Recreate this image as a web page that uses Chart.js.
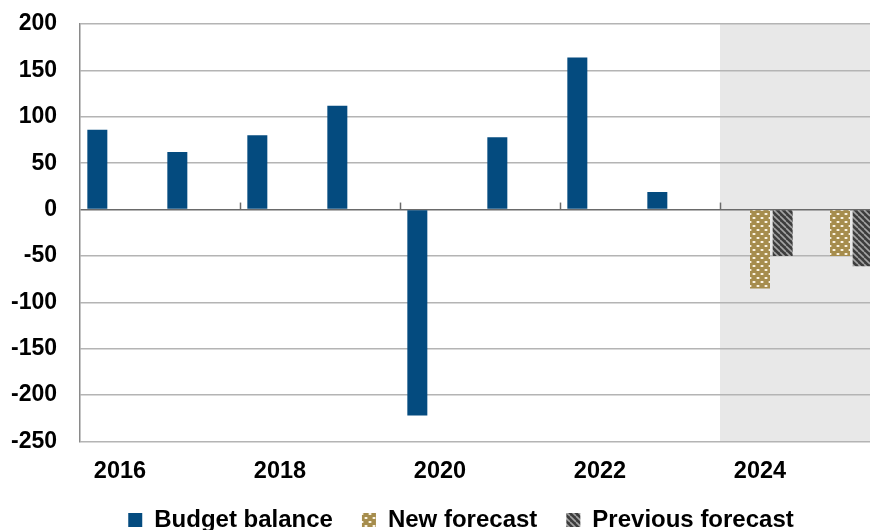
<!DOCTYPE html>
<html>
<head>
<meta charset="utf-8">
<script src="https://cdn.jsdelivr.net/npm/chart.js@4.4.1/dist/chart.umd.min.js"></script>
<style>
  html, body { margin: 0; padding: 0; overflow: hidden; background: #ffffff; }
  #wrap { width: 922px; height: 542px; }
</style>
</head>
<body>
<div id="wrap"><canvas id="c" width="922" height="542"></canvas></div>
<script>
// Budget balance by year, with the two forecast vintages for 2024-2025
const years = ['2016', '2017', '2018', '2019', '2020', '2021', '2022', '2023', '2024', '2025'];
const budgetBalance = [86, 62, 80, 112, -222, 78, 164, 19, null, null];
const newForecast = [null, null, null, null, null, null, null, null, -85, -50];
const previousForecast = [null, null, null, null, null, null, null, null, -50, -61];
const forecastFrom = '2024';
const zeroTickYears = ['2018', '2020', '2022', '2024'];
const yMin = -250, yMax = 200, yStep = 50;

const FONT = '"Liberation Sans", Arial, sans-serif';

// Dotted fill for the new forecast
function dotPattern() {
  const t = document.createElement('canvas');
  t.width = 8; t.height = 8;
  const g = t.getContext('2d');
  g.fillStyle = '#a68d4d';
  g.fillRect(0, 0, 8, 8);
  g.fillStyle = 'rgba(255,250,235,0.95)';
  g.fillRect(1, 1, 2, 2);
  g.fillRect(5, 5, 2, 2);
  g.fillStyle = 'rgba(255,250,235,0.35)';
  g.fillRect(0, 1, 1, 2); g.fillRect(3, 1, 1, 2);
  g.fillRect(4, 5, 1, 2); g.fillRect(7, 5, 1, 2);
  return g.createPattern(t, 'repeat');
}

// Diagonal hatching for the previous forecast
function stripePattern() {
  const s = 6;
  const t = document.createElement('canvas');
  t.width = s; t.height = s;
  const g = t.getContext('2d');
  g.fillStyle = '#3d3d3d';
  g.fillRect(0, 0, s, s);
  g.strokeStyle = '#a4a4a4';
  g.lineWidth = 1.6;
  for (const o of [-s, 0, s]) {
    g.beginPath();
    g.moveTo(o, 0);
    g.lineTo(o + s, s);
    g.stroke();
  }
  return g.createPattern(t, 'repeat');
}

// Grey band behind the forecast years
const forecastBand = {
  id: 'forecastBand',
  beforeDraw(chart) {
    const { ctx, chartArea: a, scales: { x } } = chart;
    const i = years.indexOf(forecastFrom);
    const half = (x.getPixelForValue(1) - x.getPixelForValue(0)) / 2;
    const left = x.getPixelForValue(i) - half;
    ctx.save();
    ctx.fillStyle = '#e8e8e8';
    ctx.fillRect(left, a.top, a.right - left, a.bottom - a.top);
    ctx.restore();
  }
};

// Small upward ticks on the zero line between two-year groups
const zeroTicks = {
  id: 'zeroTicks',
  afterDatasetsDraw(chart) {
    const { ctx, scales: { x, y } } = chart;
    const y0 = y.getPixelForValue(0);
    const half = (x.getPixelForValue(1) - x.getPixelForValue(0)) / 2;
    ctx.save();
    ctx.strokeStyle = '#6a6a6a';
    ctx.lineWidth = 1.5;
    zeroTickYears.forEach(yr => {
      const px = Math.round(x.getPixelForValue(years.indexOf(yr)) - half) + 0.5;
      ctx.beginPath();
      ctx.moveTo(px, y0);
      ctx.lineTo(px, y0 - 7);
      ctx.stroke();
    });
    ctx.restore();
  }
};

new Chart(document.getElementById('c'), {
  type: 'bar',
  data: {
    labels: years,
    datasets: [
      { label: 'Budget balance', data: budgetBalance, backgroundColor: '#044b7f', borderWidth: 0 },
      { label: 'New forecast', data: newForecast, backgroundColor: dotPattern(), borderWidth: 0 },
      { label: 'Previous forecast', data: previousForecast, backgroundColor: stripePattern(), borderWidth: 0 }
    ]
  },
  options: {
    responsive: false,
    animation: false,
    categoryPercentage: 0.85,
    barPercentage: 0.882,
    layout: { padding: { top: 24, right: 0, left: 0, bottom: 0 } },
    plugins: {
      tooltip: { enabled: false },
      legend: {
        position: 'bottom',
        labels: {
          color: '#000',
          font: { family: FONT, size: 24, weight: 'bold' },
          boxWidth: 14,
          boxHeight: 14,
          padding: 29
        }
      }
    },
    scales: {
      x: {
        grid: { display: false, drawTicks: false },
        border: { display: false },
        ticks: {
          autoSkip: false,
          maxRotation: 0,
          color: '#000',
          padding: 16,
          font: { family: FONT, size: 23.5, weight: 'bold' },
          callback: (v, i) => (i % 2 === 0 ? years[i] : '')
        },
        afterFit(s) { s.height = 37.5; }
      },
      y: {
        min: yMin,
        max: yMax,
        grid: {
          drawTicks: false,
          lineWidth: 1.5,
          color: c => (c.tick && c.tick.value === 0 ? '#6a6a6a' : '#b4b4b4')
        },
        border: { display: true, color: '#8a8a8a', width: 1.5 },
        ticks: {
          stepSize: yStep,
          color: '#000',
          padding: 23,
          font: { family: FONT, size: 23, weight: 'bold' }
        },
        afterFit(s) { s.width = 80; s.paddingTop = 0; s.paddingBottom = 0; }
      },
      // empty right-hand margin axis; the plot runs on past the visible edge
      yEdge: {
        position: 'right',
        grid: { display: false, drawTicks: false },
        border: { display: false },
        ticks: { display: false },
        afterFit(s) { s.width = 42; s.paddingTop = 0; s.paddingBottom = 0; }
      }
    }
  },
  plugins: [forecastBand, zeroTicks]
});
</script>
</body>
</html>
